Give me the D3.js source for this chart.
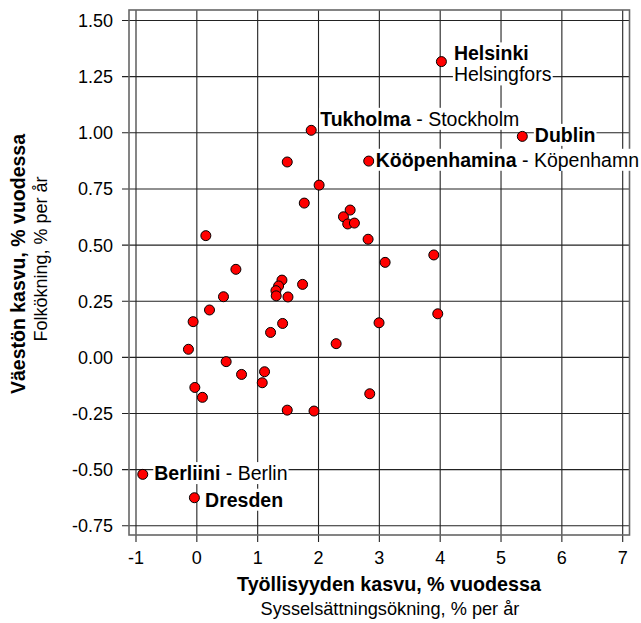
<!DOCTYPE html>
<html>
<head>
<meta charset="utf-8">
<script src="https://cdn.jsdelivr.net/npm/d3@7"></script>
<style>
  body { margin: 0; background: #fff; }
  text { font-family: Arial, "Liberation Sans", Helvetica, sans-serif; fill: #000; white-space: pre; }
</style>
</head>
<body>
<div id="chart"></div>
<script>
// employment growth (x) and population growth (y), % per year
var employmentGrowth = [
    4.02, 1.88, 5.35, 2.825, 1.486, 2.01, 1.766, 2.52, 2.41, 2.48,
    2.59, 2.815, 0.148, 3.895, 3.095, 0.642, 1.399, 1.738, 1.344, 1.30,
    1.305, 1.498, 0.438, 0.208, 3.96, -0.061, 2.995, 1.41, 1.212, 2.29,
    -0.138, 0.482, 1.113, 0.735, 1.075, -0.033, 2.842, 0.092, 1.486, 1.926,
    -0.889, -0.04
];
var populationGrowth = [
    1.317, 1.011, 0.984, 0.874, 0.870, 0.767, 0.687, 0.656, 0.626, 0.594,
    0.598, 0.526, 0.542, 0.456, 0.423, 0.392, 0.344, 0.325, 0.318, 0.297,
    0.274, 0.269, 0.270, 0.211, 0.194, 0.159, 0.154, 0.151, 0.111, 0.061,
    0.036, -0.019, -0.064, -0.076, -0.113, -0.134, -0.162, -0.178, -0.235, -0.239,
    -0.521, -0.625
];

// labelled cities: index into the arrays above, Finnish name, Swedish name
var labelIndex = [0, 1, 2, 3, 40, 41];
var labelFi = ["Helsinki", "Tukholma", "Dublin", "Kööpenhamina", "Berliini", "Dresden"];
var labelSv = ["Helsingfors", "Stockholm", "", "Köpenhamn", "Berlin", ""];

var xTicks = [-1, 0, 1, 2, 3, 4, 5, 6, 7];
var yTicks = [-0.75, -0.5, -0.25, 0, 0.25, 0.5, 0.75, 1.0, 1.25, 1.5];

var xTitle = ["Työllisyyden kasvu, % vuodessa", "Sysselsättningsökning, % per år"];
var yTitle = ["Väestön kasvu, % vuodessa", "Folkökning, % per år"];

// label placement relative to the point (layout only)
var labelPlace = {
    "Helsinki":     { dx: 12.5, dy: -1.2, twoLines: true },
    "Tukholma":     { dx: 9,    dy: -4.5 },
    "Dublin":       { dx: 12.5, dy: 5.5 },
    "Kööpenhamina": { dx: 7,    dy: 5.7 },
    "Berliini":     { dx: 11.5, dy: 5.7 },
    "Dresden":      { dx: 10.7, dy: 9 }
};

var width = 641, height = 623;
var frame = { left: 129, right: 629.5, top: 10, bottom: 535 };

var x = d3.scaleLinear().domain([-1, 7]).range([136, 622.7]);
var y = d3.scaleLinear().domain([-0.75, 1.5]).range([525.8, 20.5]);

var svg = d3.select("#chart").append("svg")
    .attr("width", width)
    .attr("height", height);

// grid lines (they also act as ticks outside the frame)
svg.append("g").selectAll("line.vx")
    .data(xTicks).enter().append("line")
    .attr("x1", function (d) { return x(d); })
    .attr("x2", function (d) { return x(d); })
    .attr("y1", frame.top)
    .attr("y2", frame.bottom + 7)
    .attr("stroke", "#222")
    .attr("stroke-width", 1.1);

svg.append("g").selectAll("line.hy")
    .data(yTicks).enter().append("line")
    .attr("x1", frame.left - 7)
    .attr("x2", frame.right)
    .attr("y1", function (d) { return y(d); })
    .attr("y2", function (d) { return y(d); })
    .attr("stroke", "#222")
    .attr("stroke-width", 1.1);

svg.append("rect")
    .attr("x", frame.left)
    .attr("y", frame.top)
    .attr("width", frame.right - frame.left)
    .attr("height", frame.bottom - frame.top)
    .attr("fill", "none")
    .attr("stroke", "#666")
    .attr("stroke-width", 1.6);

// tick labels
svg.append("g").selectAll("text")
    .data(xTicks).enter().append("text")
    .attr("x", function (d) { return x(d); })
    .attr("y", 564)
    .attr("text-anchor", "middle")
    .style("font-size", "18px")
    .text(function (d) { return d3.format("d")(d).replace("−", "-"); });

svg.append("g").selectAll("text")
    .data(yTicks).enter().append("text")
    .attr("x", 113)
    .attr("y", function (d) { return y(d) + 6.5; })
    .attr("text-anchor", "end")
    .style("font-size", "18px")
    .text(function (d) { return d3.format(".2f")(d).replace("−", "-"); });

// axis titles
svg.append("text")
    .attr("x", 389).attr("y", 591)
    .attr("text-anchor", "middle")
    .style("font-size", "19.7px").style("font-weight", "bold")
    .text(xTitle[0]);
svg.append("text")
    .attr("x", 390).attr("y", 615)
    .attr("text-anchor", "middle")
    .style("font-size", "18.2px")
    .text(xTitle[1]);

svg.append("text")
    .attr("transform", "translate(25,264) rotate(-90)")
    .attr("text-anchor", "middle")
    .style("font-size", "19.5px").style("font-weight", "bold")
    .text(yTitle[0]);
svg.append("text")
    .attr("transform", "translate(47,259) rotate(-90)")
    .attr("text-anchor", "middle")
    .style("font-size", "18px")
    .text(yTitle[1]);

// points
var points = employmentGrowth.map(function (d, i) {
    return { x: d, y: populationGrowth[i] };
});

svg.append("g").selectAll("circle")
    .data(points).enter().append("circle")
    .attr("cx", function (d) { return x(d.x); })
    .attr("cy", function (d) { return y(d.y); })
    .attr("r", 5)
    .attr("fill", "#ff0000")
    .attr("stroke", "#000")
    .attr("stroke-width", 1);

// city labels with white background
var labelLayer = svg.append("g");
labelFi.forEach(function (name, k) {
    var p = points[labelIndex[k]];
    var place = labelPlace[name];
    var g = labelLayer.append("g");
    var lx = x(p.x) + place.dx, ly = y(p.y) + place.dy;
    var t = g.append("text")
        .attr("x", lx).attr("y", ly)
        .style("font-size", "19.5px");
    t.append("tspan").style("font-weight", "bold").text(name);
    if (labelSv[k] && !place.twoLines) {
        t.append("tspan").text(" - " + labelSv[k]);
    }
    var texts = [t];
    if (place.twoLines) {
        var t2 = g.append("text")
            .attr("x", lx).attr("y", ly + 21)
            .style("font-size", "19.5px")
            .text(labelSv[k]);
        texts.push(t2);
    }
    texts.forEach(function (tt) {
        var b = tt.node().getBBox();
        g.insert("rect", "text")
            .attr("x", b.x - 1).attr("y", b.y)
            .attr("width", b.width + 2).attr("height", b.height)
            .attr("fill", "#fff");
    });
});
</script>
</body>
</html>
